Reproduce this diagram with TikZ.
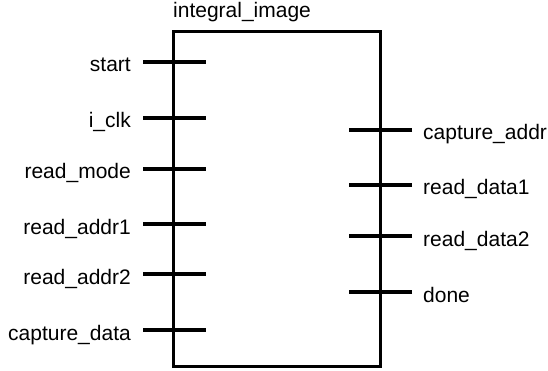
\documentclass[tikz,border=0pt]{standalone}
\usepackage{fontspec}
\setmainfont{Liberation Sans}
\usepackage{tikz}

\begin{document}
\begin{tikzpicture}[x=1pt, y=-1pt,
  every node/.style = {inner sep=0pt, font=\fontsize{21}{24}\selectfont,
    text height=25pt, text depth=5pt},
  lpin/.style = {anchor=east},
  rpin/.style = {anchor=west},
  wire/.style = {line width=3.2pt}]
  \useasboundingbox (0,0) rectangle (548,371);
  \draw[line width=3pt] (173.5,32) rectangle (380,366.5);
  \node[anchor=base west, text height=, text depth=] (title) at (173,18) {integral\_image};
  \foreach \i/\y/\txt in {1/62/start, 2/118/i\_clk, 3/169/read\_mode,
      4/224/read\_addr1, 5/274/read\_addr2, 6/330/capture\_data} {
    \node[lpin] (in\i) at (131,\y) {\txt};
    \draw[wire] ([xshift=12]in\i.east) -- ++(63,0);
  }
  \foreach \i/\y/\txt in {1/130/capture\_addr, 2/185/read\_data1,
      3/236/read\_data2, 4/292/done} {
    \node[rpin] (out\i) at (423,\y) {\txt};
    \draw[wire] ([xshift=-11]out\i.west) -- ++(-63,0);
  }
\end{tikzpicture}
\end{document}
